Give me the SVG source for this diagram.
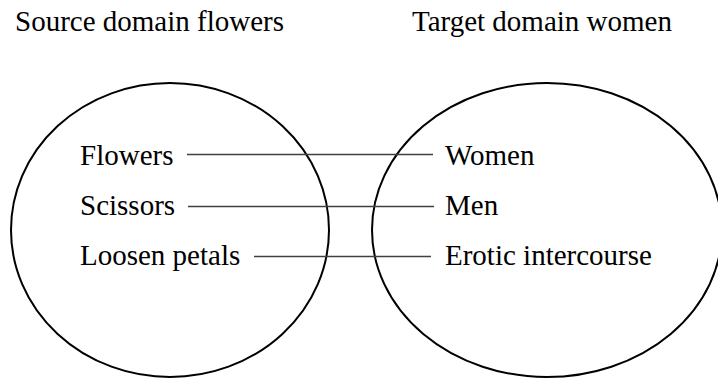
<svg xmlns="http://www.w3.org/2000/svg" width="718" height="379" viewBox="0 0 718 379">
  <style>
    text { font-family: "Liberation Serif", "Times New Roman", serif; font-size: 29px; fill: #000; }
    .domain { fill: none; stroke: #000; stroke-width: 2; }
    .map { stroke: #404040; stroke-width: 1.5; }
  </style>
  <rect width="718" height="379" fill="#fff"/>

  <!-- domain titles -->
  <g id="title-source"><text x="15" y="31">Source domain flowers</text></g>
  <g id="title-target"><text x="412" y="31">Target domain women</text></g>

  <!-- domain circles -->
  <g id="source-domain"><ellipse class="domain" cx="170" cy="230" rx="159" ry="147"/></g>
  <g id="target-domain"><ellipse class="domain" cx="547" cy="230" rx="175" ry="147"/></g>

  <!-- mappings -->
  <g id="connectors">
    <line class="map" x1="187" y1="154.5" x2="433" y2="154.5"/>
    <line class="map" x1="188" y1="206.5" x2="434" y2="206.5"/>
    <line class="map" x1="254" y1="256.5" x2="431" y2="256.5"/>
  </g>

  <!-- source items -->
  <g id="flowers"><text x="80" y="165">Flowers</text></g>
  <g id="scissors"><text x="80" y="215">Scissors</text></g>
  <g id="loosen-petals"><text x="80" y="265">Loosen petals</text></g>

  <!-- target items -->
  <g id="women"><text x="445" y="165">Women</text></g>
  <g id="men"><text x="445" y="215">Men</text></g>
  <g id="erotic-intercourse"><text x="445" y="265">Erotic intercourse</text></g>
</svg>
